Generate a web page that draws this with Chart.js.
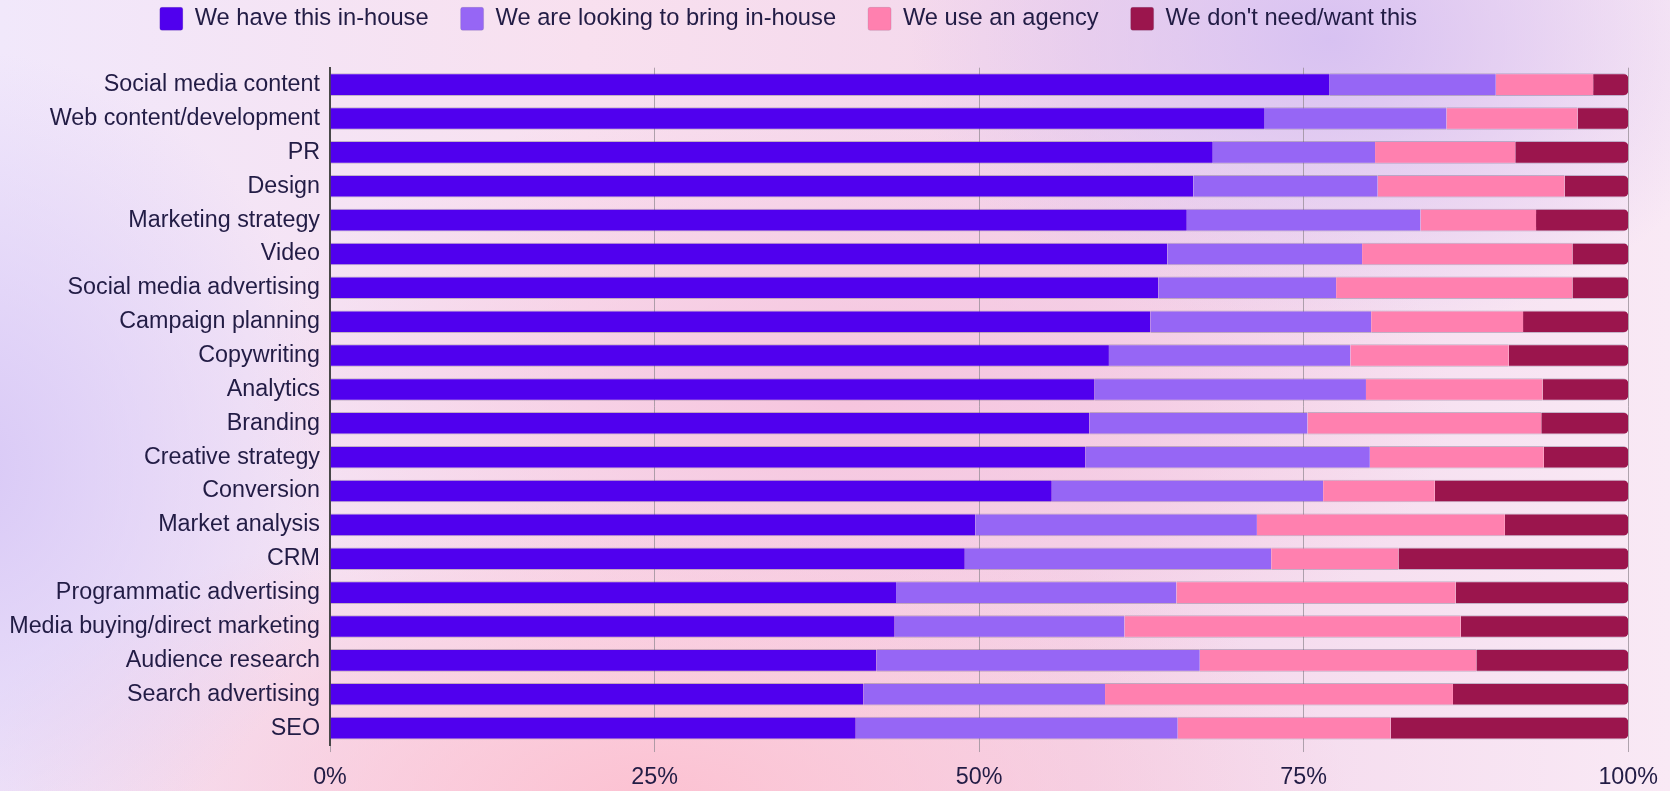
<!DOCTYPE html>
<html>
<head>
<meta charset="utf-8">
<title>In-house vs agency</title>
<script src="https://cdn.jsdelivr.net/npm/chart.js@4.4.1/dist/chart.umd.min.js"></script>
<style>
    html, body {
        margin: 0;
        padding: 0;
    }
    body {
        width: 1670px;
        height: 791px;
        overflow: hidden;
        background:
            radial-gradient(ellipse 420px 300px at 1330px 40px, rgba(214, 192, 242, 0.95), rgba(214, 192, 242, 0) 100%),
            radial-gradient(ellipse 380px 420px at -40px 470px, rgba(216, 200, 246, 1), rgba(216, 200, 246, 0) 100%),
            radial-gradient(ellipse 700px 300px at 650px 800px, rgba(252, 192, 208, 0.95), rgba(252, 192, 208, 0) 100%),
            radial-gradient(ellipse 600px 320px at 850px 400px, rgba(246, 194, 220, 0.9), rgba(246, 194, 220, 0) 100%),
            linear-gradient(90deg, #f1e8fb 0%, #f8e0ef 35%, #f3d6eb 65%, #f9e9f5 100%);
    }
    .chart-wrap {
        position: relative;
        width: 1670px;
        height: 791px;
    }
</style>
</head>
<body>
<div class="chart-wrap">
    <canvas id="inHouseChart"></canvas>
</div>

<script>
// Capabilities, top to bottom
const categories = [
    'Social media content',
    'Web content/development',
    'PR',
    'Design',
    'Marketing strategy',
    'Video',
    'Social media advertising',
    'Campaign planning',
    'Copywriting',
    'Analytics',
    'Branding',
    'Creative strategy',
    'Conversion',
    'Market analysis',
    'CRM',
    'Programmatic advertising',
    'Media buying/direct marketing',
    'Audience research',
    'Search advertising',
    'SEO'
];

// Share of respondents (%)
const inHouse = [77.0, 72.0, 68.0, 66.5, 66.0, 64.5, 63.8, 63.2, 60.0, 58.9, 58.5, 58.2, 55.6, 49.7, 48.9, 43.6, 43.5, 42.1, 41.1, 40.5];
const lookingToBring = [12.8, 14.0, 12.5, 14.2, 18.0, 15.0, 13.7, 17.0, 18.6, 20.9, 16.8, 21.9, 20.9, 21.7, 23.6, 21.6, 17.7, 24.9, 18.6, 24.8];
const useAgency = [7.5, 10.1, 10.8, 14.4, 8.9, 16.2, 18.2, 11.7, 12.2, 13.6, 18.0, 13.4, 8.6, 19.1, 9.8, 21.5, 25.9, 21.3, 26.8, 16.4];
const dontNeed = [2.7, 3.9, 8.7, 4.9, 7.1, 4.3, 4.3, 8.1, 9.2, 6.6, 6.7, 6.5, 14.9, 9.5, 17.7, 13.3, 12.9, 11.7, 13.5, 18.3];

const seriesNames = ['We have this in-house', 'We are looking to bring in-house', 'We use an agency', "We don't need/want this"];
const seriesColors = ['#5000ee', '#9666f5', '#ff80af', '#9b154d'];
const xTickLabels = ['0%', '25%', '50%', '75%', '100%'];

const textColor = '#221c45';
const fontFamily = "'Liberation Sans', Arial, sans-serif";

document.addEventListener('DOMContentLoaded', function () {
    renderChart();
});

function makeDataset(name, values, color) {
    return {
        label: name,
        data: values,
        backgroundColor: color,
        borderColor: 'rgba(100, 85, 120, 0.35)',
        borderWidth: { top: 1, bottom: 1, left: 0, right: 0 },
        borderSkipped: 'start',
        borderRadius: 5,
        categoryPercentage: 0.8,
        barPercentage: 0.833
    };
}

function renderChart() {
    const ctx = document.getElementById('inHouseChart').getContext('2d');

    const seriesValues = [inHouse, lookingToBring, useAgency, dontNeed];
    const datasets = seriesValues.map((values, i) => makeDataset(seriesNames[i], values, seriesColors[i]));

    new Chart(ctx, {
        type: 'bar',
        data: {
            labels: categories,
            datasets: datasets
        },
        options: {
            indexAxis: 'y',
            responsive: true,
            maintainAspectRatio: false,
            animation: false,
            layout: {
                // left is pulled out so the legend row sits a bit left of centre;
                // the y axis width below puts the plot back at x = 330
                padding: { top: -25, right: 21, left: -72, bottom: -13 }
            },
            plugins: {
                legend: {
                    position: 'top',
                    weight: 3000,
                    labels: {
                        color: textColor,
                        font: { family: fontFamily, size: 23.7 },
                        boxWidth: 23,
                        boxHeight: 23,
                        padding: 32,
                        useBorderRadius: true,
                        borderRadius: 2
                    }
                },
                // empty title used as a gap under the legend
                title: {
                    display: true,
                    text: '',
                    position: 'top',
                    font: { size: 10, lineHeight: 1 },
                    padding: { top: 0, bottom: 17 }
                },
                tooltip: { enabled: false }
            },
            scales: {
                x: {
                    stacked: true,
                    min: 0,
                    max: 100,
                    ticks: {
                        stepSize: 25,
                        color: textColor,
                        font: { family: fontFamily, size: 23.3 },
                        padding: 12,
                        maxRotation: 0,
                        callback: (value, index) => xTickLabels[index]
                    },
                    grid: {
                        color: 'rgba(150, 140, 150, 0.75)',
                        lineWidth: 1,
                        drawTicks: true,
                        tickLength: 7
                    },
                    border: { display: false }
                },
                y: {
                    stacked: true,
                    ticks: {
                        color: textColor,
                        font: { family: fontFamily, size: 23.3 },
                        padding: 10,
                        autoSkip: false
                    },
                    grid: { display: false, drawTicks: false },
                    border: { display: true, color: '#474747', width: 2 },
                    afterFit: function (scale) {
                        scale.width = 402;
                    }
                }
            }
        }
    });
}
</script>
</body>
</html>
